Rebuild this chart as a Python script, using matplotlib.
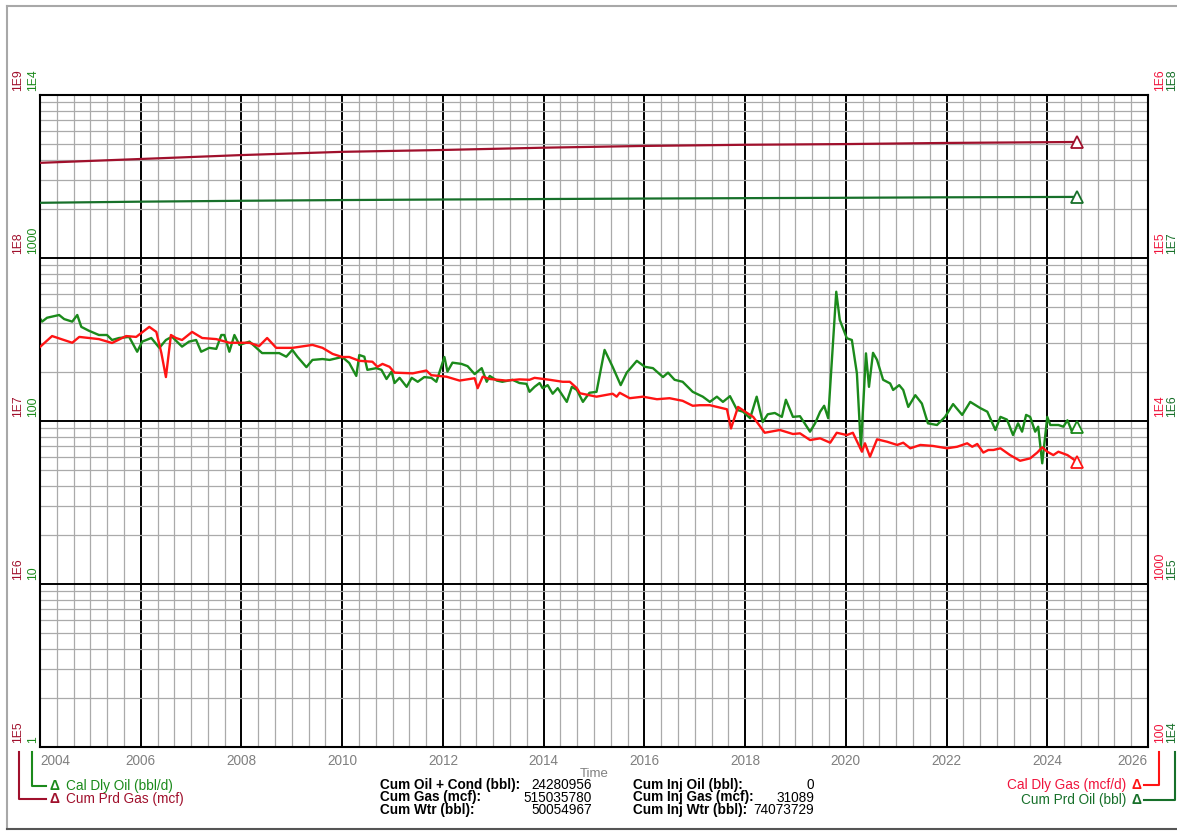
import numpy as np
import matplotlib
matplotlib.use("Agg")
import matplotlib.pyplot as plt
from matplotlib.lines import Line2D
from matplotlib.ticker import MultipleLocator, LogLocator, NullLocator

plt.rcParams['font.family'] = ['Liberation Sans', 'DejaVu Sans']

# Calendar daily oil (bbl/d) - monthly-ish readings
oil_years = [2003.98, 2004.04, 2004.14, 2004.38, 2004.48, 2004.64, 2004.74, 2004.82, 2004.97, 2005.17,
             2005.33, 2005.43, 2005.57, 2005.77, 2005.93, 2006.03, 2006.21, 2006.37, 2006.50, 2006.62,
             2006.82, 2006.96, 2007.10, 2007.20, 2007.36, 2007.50, 2007.60, 2007.66, 2007.76, 2007.86,
             2007.96, 2008.16, 2008.41, 2008.75, 2008.89, 2009.01, 2009.11, 2009.29, 2009.41, 2009.61,
             2009.75, 2010.00, 2010.14, 2010.28, 2010.34, 2010.44, 2010.50, 2010.68, 2010.78, 2010.88,
             2010.98, 2011.04, 2011.14, 2011.28, 2011.38, 2011.50, 2011.63, 2011.77, 2011.87, 2012.03,
             2012.09, 2012.19, 2012.37, 2012.49, 2012.63, 2012.77, 2012.87, 2012.93, 2013.07, 2013.18,
             2013.38, 2013.52, 2013.66, 2013.72, 2013.82, 2013.92, 2013.98, 2014.08, 2014.18, 2014.28,
             2014.46, 2014.56, 2014.66, 2014.78, 2014.91, 2015.05, 2015.21, 2015.37, 2015.53, 2015.65,
             2015.85, 2016.01, 2016.17, 2016.37, 2016.47, 2016.60, 2016.76, 2016.96, 2017.16, 2017.30,
             2017.44, 2017.56, 2017.70, 2017.84, 2017.96, 2018.10, 2018.23, 2018.35, 2018.45, 2018.59,
             2018.73, 2018.81, 2018.95, 2019.09, 2019.29, 2019.39, 2019.49, 2019.57, 2019.65, 2019.81,
             2019.88, 2020.02, 2020.12, 2020.22, 2020.30, 2020.40, 2020.46, 2020.54, 2020.62, 2020.74,
             2020.88, 2020.94, 2021.06, 2021.14, 2021.24, 2021.38, 2021.51, 2021.63, 2021.81, 2021.97,
             2022.13, 2022.31, 2022.47, 2022.67, 2022.81, 2022.97, 2023.07, 2023.20, 2023.32, 2023.42,
             2023.50, 2023.58, 2023.66, 2023.76, 2023.82, 2023.90, 2024.00, 2024.06, 2024.22, 2024.32,
             2024.40, 2024.50, 2024.60]
oil_rate = [436, 407, 430, 447, 422, 407, 447, 378, 358, 337,
            337, 314, 323, 328, 266, 307, 323, 281, 314, 329,
            286, 307, 314, 266, 281, 277, 337, 337, 266, 337,
            293, 307, 261, 261, 248, 273, 248, 214, 237, 240,
            237, 247, 227, 189, 254, 248, 206, 211, 206, 181,
            201, 171, 184, 162, 184, 174, 186, 184, 174, 247,
            201, 228, 224, 217, 194, 211, 174, 189, 177, 174,
            179, 171, 169, 151, 162, 171, 159, 166, 147, 159,
            131, 162, 155, 131, 149, 151, 273, 215, 166, 198,
            234, 215, 211, 186, 198, 179, 174, 151, 141, 131,
            141, 131, 142, 117, 114, 104, 141, 98.6, 110, 112,
            106, 135, 106, 107, 86, 96.8, 114, 124, 104, 621,
            417, 322, 314, 196, 68, 260, 162, 262, 237, 179,
            170, 155, 166, 155, 122, 144, 128, 96.8, 94.5, 106,
            127, 109, 131, 120, 114, 88.1, 106, 102, 82, 96.8,
            86, 109, 106, 86, 92.3, 55, 106, 94.5, 94.5, 92.3,
            101, 84.7, 92]

# Calendar daily gas (mcf/d)
gas_years = [2003.98, 2004.24, 2004.64, 2004.78, 2005.17, 2005.43, 2005.71, 2005.91, 2006.17, 2006.31,
             2006.41, 2006.50, 2006.60, 2006.70, 2006.82, 2007.02, 2007.22, 2007.50, 2007.76, 2008.16,
             2008.35, 2008.51, 2008.69, 2009.01, 2009.41, 2009.61, 2009.81, 2010.00, 2010.14, 2010.34,
             2010.60, 2010.70, 2010.80, 2010.94, 2011.04, 2011.40, 2011.67, 2011.77, 2012.07, 2012.33,
             2012.63, 2012.69, 2012.79, 2012.93, 2013.26, 2013.52, 2013.72, 2013.82, 2014.12, 2014.38,
             2014.52, 2014.66, 2014.72, 2015.05, 2015.37, 2015.45, 2015.51, 2015.71, 2015.97, 2016.25,
             2016.50, 2016.76, 2016.96, 2017.10, 2017.30, 2017.64, 2017.72, 2017.86, 2018.04, 2018.16,
             2018.39, 2018.69, 2018.95, 2019.09, 2019.29, 2019.49, 2019.69, 2019.82, 2020.02, 2020.14,
             2020.32, 2020.38, 2020.48, 2020.62, 2020.82, 2021.02, 2021.14, 2021.28, 2021.48, 2021.73,
             2022.01, 2022.21, 2022.41, 2022.51, 2022.61, 2022.73, 2022.83, 2022.93, 2023.07, 2023.26,
             2023.46, 2023.66, 2023.80, 2023.90, 2024.00, 2024.12, 2024.22, 2024.40, 2024.60]
gas_rate = [28100, 33200, 30200, 32800, 31800, 30100, 33200, 32800, 37800, 35200,
            26100, 18600, 33700, 32300, 31400, 35200, 32300, 31800, 30200, 30200,
            28800, 32300, 28100, 28100, 29300, 28100, 25800, 24700, 24700, 23400,
            23100, 21500, 22400, 21500, 19800, 19600, 20400, 19100, 18700, 17700,
            18300, 15900, 18700, 18100, 17700, 18000, 17900, 18400, 17900, 17400,
            17400, 15900, 14800, 14100, 14700, 14100, 14900, 13800, 14100, 13600,
            13800, 13300, 12400, 12500, 12500, 11800, 9000, 12200, 11200, 10600,
            8470, 8810, 8320, 8400, 7640, 7830, 7360, 8470, 8200, 8470,
            6480, 7300, 6040, 7720, 7460, 7130, 7360, 6800, 7130, 7030,
            6800, 6950, 7300, 6950, 7230, 6400, 6640, 6640, 6800, 6180,
            5700, 5900, 6400, 6900, 6480, 6180, 6480, 6180, 5600]

# Cumulative production
cum_years = [2003.95, 2006, 2008, 2010, 2012, 2014, 2016, 2018, 2020, 2022, 2024.6]
cum_gas = [3.83e8, 4.05e8, 4.28e8, 4.48e8, 4.60e8, 4.75e8, 4.87e8, 4.95e8, 5.0e8, 5.08e8, 5.15e8]
cum_oil = [2.18e7, 2.216e7, 2.244e7, 2.267e7, 2.285e7, 2.30e7, 2.316e7, 2.329e7, 2.341e7, 2.357e7, 2.37e7]

# Axis decade labels
oil_ticks = [1, 10, 100, 1000, 1e4]
oil_tick_labels = ['1', '10', '100', '1000', '1E4']
gas_ticks = [100, 1000, 1e4, 1e5, 1e6]
gas_tick_labels = ['100', '1000', '1E4', '1E5', '1E6']
cgas_ticks = [1e5, 1e6, 1e7, 1e8, 1e9]
cgas_tick_labels = ['1E5', '1E6', '1E7', '1E8', '1E9']
coil_ticks = [1e4, 1e5, 1e6, 1e7, 1e8]
coil_tick_labels = ['1E4', '1E5', '1E6', '1E7', '1E8']
year_ticks = list(range(2004, 2027, 2))

stat_labels_1 = ['Cum Oil + Cond (bbl):', 'Cum Gas (mcf):', 'Cum Wtr (bbl):']
stat_values_1 = [24280956, 515035780, 50054967]
stat_labels_2 = ['Cum Inj Oil (bbl):', 'Cum Inj Gas (mcf):', 'Cum Inj Wtr (bbl):']
stat_values_2 = [0, 31089, 74073729]

# colours
C_OIL = '#1b8a1b'
C_GAS = '#ff1414'
C_GAS_TXT = '#f0143c'
C_CGAS = '#a0102c'
C_COIL = '#17702a'

W, H = 1177, 833
def P(x, y):
    return (x / W, 1 - y / H)

fig = plt.figure(figsize=(W / 100, H / 100), dpi=100)
ax = fig.add_axes([40 / W, 1 - 747 / H, 1108 / W, 652 / H])

ax.set_xlim(2004, 2026)
ax.set_yscale('log')
ax.set_ylim(1, 1e4)
ax.set_xticks(year_ticks)
ax.xaxis.set_minor_locator(MultipleLocator(1 / 3))
ax.yaxis.set_major_locator(LogLocator(base=10, numticks=10))
ax.yaxis.set_minor_locator(LogLocator(base=10, subs=np.arange(2, 10), numticks=10))
ax.grid(which='major', color='black', lw=1.4)
ax.grid(which='minor', color='#aaaaaa', lw=0.9)
ax.set_axisbelow(True)
ax.tick_params(which='both', length=0)
ax.tick_params(axis='y', labelleft=False)
ax.tick_params(axis='x', colors='#808080', labelsize=9.8, pad=5)
ax.set_xticklabels([str(y) for y in year_ticks])
lbls = ax.get_xticklabels()
lbls[0].set_ha('left')
lbls[-1].set_ha('right')
ax.set_xlabel('Time', color='#808080', fontsize=9.5, labelpad=0)
for s in ax.spines.values():
    s.set_color('black')
    s.set_linewidth(1.5)


def twin(lo, hi):
    t = ax.twinx()
    t.set_yscale('log')
    t.set_ylim(lo, hi)
    t.yaxis.set_major_locator(NullLocator())
    t.yaxis.set_minor_locator(NullLocator())
    for s in t.spines.values():
        s.set_visible(False)
    return t

ax_cgas = twin(1e5, 1e9)
ax_coil = twin(1e4, 1e8)
ax_gas = twin(100, 1e6)

mk = dict(marker='^', markevery=[-1], markersize=8, markerfacecolor='white', markeredgewidth=1.3)
ax.plot(oil_years, oil_rate, color=C_OIL, lw=1.7, markeredgecolor=C_OIL, **mk)
ax_gas.plot(gas_years, gas_rate, color=C_GAS, lw=1.7, markeredgecolor=C_GAS, **mk)
ax_cgas.plot(cum_years, cum_gas, color=C_CGAS, lw=1.6, markeredgecolor=C_CGAS, **mk)
ax_coil.plot(cum_years, cum_oil, color=C_COIL, lw=1.6, markeredgecolor=C_COIL, **mk)


def side_labels(a, vals, labels, xpx, color):
    for v, lab in zip(vals, labels):
        a.annotate(lab, xy=(xpx / W, v), xycoords=('figure fraction', 'data'),
                   xytext=(0, 4), textcoords='offset pixels', rotation=90,
                   ha='center', va='bottom', color=color, fontsize=8.7,
                   annotation_clip=False)

side_labels(ax_cgas, cgas_ticks, cgas_tick_labels, 18, C_CGAS)
side_labels(ax, oil_ticks, oil_tick_labels, 33, C_OIL)
side_labels(ax_gas, gas_ticks, gas_tick_labels, 1160, C_GAS_TXT)
side_labels(ax_coil, coil_ticks, coil_tick_labels, 1172, C_COIL)

# outer frame
for xs, ys, c in [((7, 1200), (6, 6), '#a8a8a8'), ((7, 7), (6, 829), '#a8a8a8'),
                  ((7, 1200), (829, 829), '#555555')]:
    p0, p1 = P(xs[0], ys[0]), P(xs[1], ys[1])
    fig.add_artist(Line2D([p0[0], p1[0]], [p0[1], p1[1]], color=c, lw=1.5, transform=fig.transFigure))


def bracket(pts, color):
    xs = [P(x, y)[0] for x, y in pts]
    ys = [P(x, y)[1] for x, y in pts]
    fig.add_artist(Line2D(xs, ys, color=color, lw=1.5, transform=fig.transFigure))

# left legend
bracket([(32, 752), (32, 786), (46, 786)], C_OIL)
bracket([(19, 752), (19, 799), (46, 799)], C_CGAS)
fig.text(*P(54, 786), '\u0394', color=C_OIL, fontsize=10, fontweight='bold', ha='center', va='center')
fig.text(*P(66, 786), 'Cal Dly Oil (bbl/d)', color=C_OIL, fontsize=9.8, va='center')
fig.text(*P(54, 799), '\u0394', color=C_CGAS, fontsize=10, fontweight='bold', ha='center', va='center')
fig.text(*P(66, 799), 'Cum Prd Gas (mcf)', color=C_CGAS, fontsize=9.8, va='center')

# right legend
bracket([(1144, 785), (1159, 785), (1159, 752)], C_GAS)
bracket([(1144, 800), (1175, 800), (1175, 752)], C_COIL)
fig.text(*P(1137, 785), '\u0394', color=C_GAS, fontsize=10, fontweight='bold', ha='center', va='center')
fig.text(*P(1126, 785), 'Cal Dly Gas (mcf/d)', color=C_GAS_TXT, fontsize=9.8, ha='right', va='center')
fig.text(*P(1137, 800), '\u0394', color=C_COIL, fontsize=10, fontweight='bold', ha='center', va='center')
fig.text(*P(1126, 800), 'Cum Prd Oil (bbl)', color=C_COIL, fontsize=9.8, ha='right', va='center')

# cumulative stats block
for i in range(3):
    y = 785 + 12.5 * i
    fig.text(*P(380, y), stat_labels_1[i], fontsize=9.8, fontweight='bold', va='center')
    fig.text(*P(592, y), str(stat_values_1[i]), fontsize=9.8, ha='right', va='center')
    fig.text(*P(633, y), stat_labels_2[i], fontsize=9.8, fontweight='bold', va='center')
    fig.text(*P(814, y), str(stat_values_2[i]), fontsize=9.8, ha='right', va='center')

fig.savefig('out.png', dpi=100)
